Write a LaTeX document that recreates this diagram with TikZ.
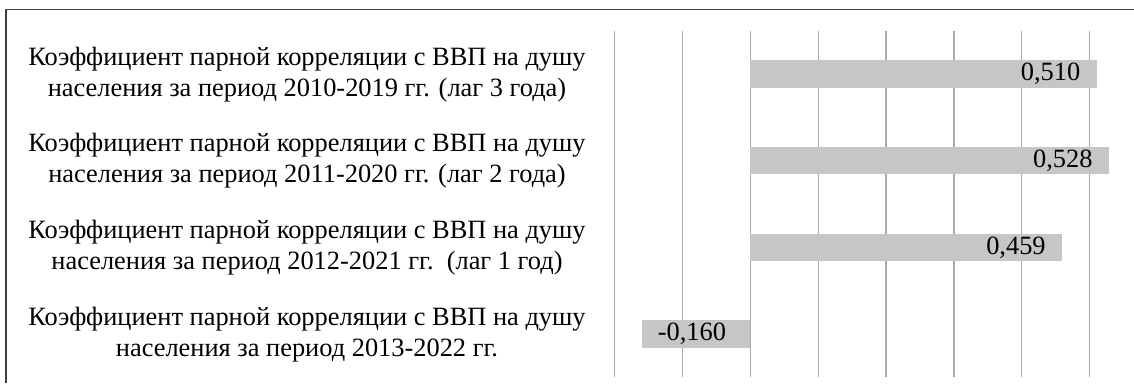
\documentclass[tikz,border=0pt]{standalone}
\usepackage{fontspec}
\setmainfont{Liberation Serif}
\definecolor{barfill}{HTML}{C6C6C6}
\definecolor{gridcol}{HTML}{ABABAB}
\definecolor{framecol}{HTML}{404040}

\begin{document}
\begin{tikzpicture}[x=1pt,y=-1pt,
    lbl/.style={align=center,font=\fontsize{26.4}{31}\selectfont,inner sep=0pt,anchor=base},
    val/.style={font=\fontsize{26.4}{31}\selectfont,inner sep=0pt},
    bar/.style={fill=barfill}]
\useasboundingbox (0,0) rectangle (1134,383);
% chart frame
\draw[framecol,line width=1.6pt] (6,383) -- (6,9.5) -- (1134,9.5);
% grid from -0.2 to 0.5
\foreach \g in {-2,...,5}
    \draw[gridcol,line width=1.2pt] ({750.2+67.9*\g},30.7) -- ({750.2+67.9*\g},377.3);
% bars
\foreach \v/\yc in {0.510/74,0.528/160.6,0.459/247.3,-0.160/334}
    \fill[bar] (750.2,\yc-13.8) rectangle ({750.2+679*\v},\yc+13.8);
\node[val,anchor=east] (v1) at ({750.2+679*0.510-16},74) {0,510};
\node[val,anchor=east] (v2) at ({750.2+679*0.528-16},160.6) {0,528};
\node[val,anchor=east] (v3) at ({750.2+679*0.459-16},247.3) {0,459};
\node[val,anchor=west] (v4) at ({750.2-679*0.160+16},334) {-0,160};
% category labels
\node[lbl] (c1) at (307,96) {Коэффициент парной корреляции с ВВП на душу\\населения за период 2010-2019 гг. (лаг 3 года)};
\node[lbl] (c2) at (307,182.6) {Коэффициент парной корреляции с ВВП на душу\\населения за период 2011-2020 гг. (лаг 2 года)};
\node[lbl] (c3) at (307,269.3) {Коэффициент парной корреляции с ВВП на душу\\населения за период 2012-2021 гг.\ \ (лаг 1 год)};
\node[lbl] (c4) at (307,356) {Коэффициент парной корреляции с ВВП на душу\\населения за период 2013-2022 гг.};
\end{tikzpicture}
\end{document}
